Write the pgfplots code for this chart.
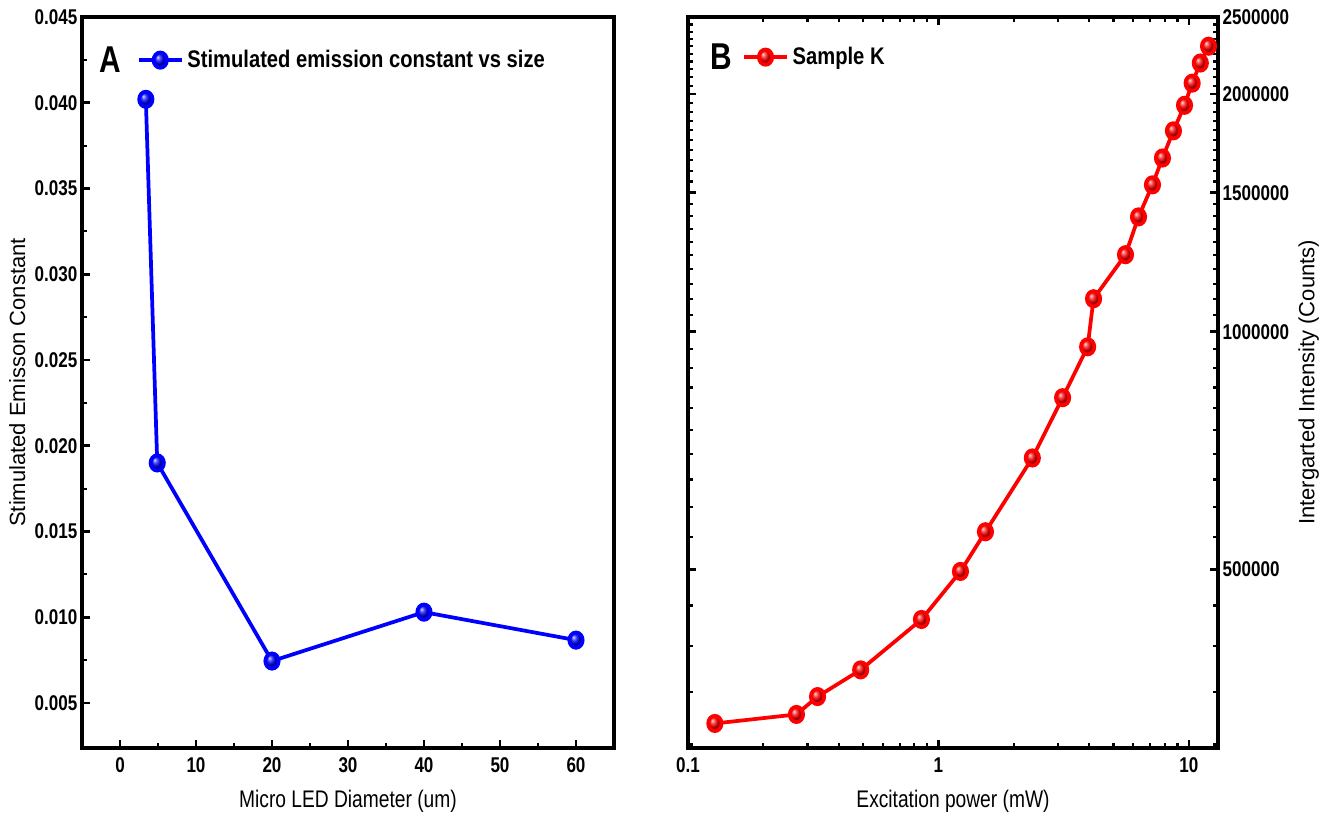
\documentclass[border=0pt]{standalone}
\usepackage{fontspec}
\setmainfont{Liberation Sans}
\newfontfamily\narrow{Liberation Sans}[FakeStretch=0.8]
\newfontfamily\legfont{Liberation Sans}[FakeStretch=0.84]
\usepackage{pgfplots}
\pgfplotsset{compat=1.18}

\pgfplotsset{
  mystyle/.style={
    scale only axis,
    height=548.25pt,
    clip=false,
    tick align=inside,
    axis line style={line width=3pt},
    major tick length=6pt,
    minor tick length=3.5pt,
    major tick style={line width=2pt, black},
    minor tick style={line width=1.6pt, black},
    /pgf/number format/assume math mode=true,
    ticklabel style={font=\narrow\bfseries\fontsize{16}{18}\selectfont},
    xticklabel style={yshift=-4pt},
    xlabel style={font=\narrow\fontsize{18}{20}\selectfont, yshift=-6pt},
    ylabel style={font=\fontsize{16.5}{19}\selectfont},
    legend style={draw=none, fill=none, inner sep=0pt, font=\legfont\bfseries\fontsize{18}{20}\selectfont, nodes={inner sep=3pt}},
    legend cell align=left,
    legend image code/.code={\draw[mark repeat=2, mark phase=2, ##1] plot coordinates {(0pt,0pt) (16pt,0pt) (32pt,0pt)};},
  }
}

\begin{document}
\begin{tikzpicture}
\useasboundingbox (-61.5pt,-52.5pt) rectangle (939pt,561pt);

\begin{axis}[mystyle,
  at={(0pt,0pt)}, anchor=south west,
  width=399pt,
  xmin=-5, xmax=65, ymin=0.00238, ymax=0.045,
  xtick={0,10,20,30,40,50,60},
  ytick={0.005,0.01,0.015,0.02,0.025,0.03,0.035,0.04,0.045},
  minor x tick num=1, minor y tick num=1,
  xtick pos=left, ytick pos=left,
  scaled y ticks=false,
  yticklabel style={/pgf/number format/.cd, fixed, fixed zerofill, precision=3},
  xlabel={Micro LED Diameter (um)},
  ylabel={Stimulated Emisson Constant},
  legend style={at={(0.103,0.941)}, anchor=west},
]
\addplot[color=blue, line width=2.8pt, mark=ball, mark size=5pt,
  mark options={ball color=blue, yscale=1.15}]
  coordinates {(3.4,0.0402) (4.9,0.0190) (20,0.00745) (40,0.0103) (60,0.00867)};
\addlegendentry{Stimulated emission constant vs size}
\draw[line width=3pt] (rel axis cs:0,0) rectangle (rel axis cs:1,1);
\node[font=\narrow\bfseries\fontsize{28}{30}\selectfont] at (rel axis cs:0.053,0.941) {A};
\end{axis}

\begin{axis}[mystyle,
  at={(454.5pt,0pt)}, anchor=south west,
  width=397.5pt,
  xmode=log, ymode=log,
  xmin=0.1, xmax=13.06, ymin=297000, ymax=2505000,
  xtick={0.1,1,10}, xticklabels={0.1,1,10},
  minor xtick={0.2,0.3,0.4,0.5,0.6,0.7,0.8,0.9,2,3,4,5,6,7,8,9},
  ytick={500000,1000000,1500000,2000000,2500000},
  yticklabels={500000,1000000,1500000,2000000,2500000},
  minor ytick={300000,350000,400000,450000,550000,600000,650000,700000,750000,800000,850000,900000,950000,1050000,1100000,1150000,1200000,1250000,1300000,1350000,1400000,1450000,1550000,1600000,1650000,1700000,1750000,1800000,1850000,1900000,1950000,2050000,2100000,2150000,2200000,2250000,2300000,2350000,2400000,2450000},
  yticklabel pos=right,
  xlabel={Excitation power (mW)},
  ylabel={Intergarted Intensity (Counts)},
  legend style={at={(0.102,0.945)}, anchor=west},
]
\addplot[color=red, line width=2.8pt, mark=ball, mark size=5pt,
  mark options={ball color=red, yscale=1.15}]
  coordinates {
  (0.128,319000) (0.271,327500) (0.329,345000) (0.489,373000) (0.855,432000)
  (1.224,497000) (1.54,558000) (2.37,692000) (3.13,825000) (3.94,957000)
  (4.16,1101000) (5.58,1252000) (6.29,1398000) (7.15,1535000) (7.84,1660000)
  (8.67,1797000) (9.60,1936000) (10.3,2065000) (11.1,2190000) (11.97,2300000)
  };
\addlegendentry{Sample K}
\draw[line width=3pt] (rel axis cs:0,0) rectangle (rel axis cs:1,1);
\node[font=\narrow\bfseries\fontsize{28}{30}\selectfont] at (rel axis cs:0.062,0.945) {B};
\end{axis}
\end{tikzpicture}
\end{document}
